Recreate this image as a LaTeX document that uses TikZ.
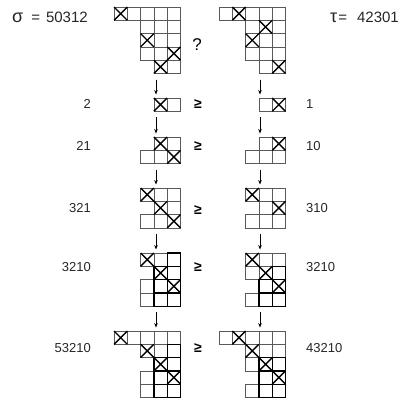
\documentclass[tikz,border=0pt]{standalone}
\usepackage{fontspec}
\setmainfont{Liberation Sans}
\usetikzlibrary{arrows.meta}

% one staircase diagram: origin, cells, crossed cells
\newcommand\stairgrid[3]{%
  \begin{scope}[shift={#1}, x=13.3pt, y=-13.3pt]
    \foreach \c/\r in {#2} \draw[cell] (\c,\r) rectangle ++(1,1);
    \foreach \c/\r in {#3} \draw[cross] (\c,\r) -- ++(1,1) (\c+1,\r) -- ++(-1,1);
  \end{scope}}
% heavier outline on some cells of a diagram
\newcommand\stairbold[2]{%
  \begin{scope}[shift={#1}, x=13.3pt, y=-13.3pt]
    \foreach \c/\r in {#2} \draw[boldcell] (\c,\r) rectangle ++(1,1);
  \end{scope}}
\newcommand\greekbig[1]{{\fontsize{18}{18}\selectfont #1}}

\begin{document}
\begin{tikzpicture}[x=1pt, y=-1pt,
    cell/.style={draw=black!65, line width=0.7pt},
    boldcell/.style={draw=black, line width=1.2pt},
    cross/.style={draw=black, line width=1.4pt},
    flow/.style={-{Stealth[length=4.5pt,width=3.5pt]}, line width=0.6pt, shorten <=6pt, shorten >=3.5pt},
    lab/.style={font=\fontsize{13}{15}\selectfont, inner sep=0pt, text=black!85},
    toplab/.style={lab, font=\fontsize{15}{17}\selectfont},
    geq/.style={font=\fontsize{14}{16}\selectfont\bfseries, inner sep=0pt}
  ]
  \useasboundingbox (0,0) rectangle (401,397);

  % top row: sigma and tau
  \node[toplab, anchor=west] (sigma) at (12,17) {\greekbig{σ}\hspace{8pt}=\hspace{6pt}50312};
  \node[toplab, anchor=east] (tau) at (399,17) {\greekbig{τ}\hspace{1pt}=\hspace{10pt}42301};
  \stairgrid{(114,7)}{0/0,1/0,2/0,3/0,4/0,2/1,3/1,4/1,2/2,3/2,4/2,2/3,3/3,4/3,3/4,4/4}{0/0,2/2,4/3,3/4}
  \stairgrid{(219,7)}{0/0,1/0,2/0,3/0,4/0,2/1,3/1,4/1,2/2,3/2,4/2,2/3,3/3,4/3,3/4,4/4}{1/0,3/1,2/2,4/4}
  \node[font=\fontsize{17}{19}\selectfont, inner sep=0pt] (query) at (197,45) {?};
  \coordinate (L1-bot) at (156,73.5);
  \coordinate (R1-bot) at (260,73.5);

  % 2 / 1
  \stairgrid{(114,98)}{3/0,4/0}{3/0}
  \stairgrid{(219,98)}{3/0,4/0}{4/0}
  \node[lab, anchor=east] (l2) at (91,104) {2};
  \node[geq] (g2) at (198,104) {≥};
  \node[lab, anchor=west] (r2) at (306,104) {1};
  \coordinate (L2-top) at (156,98);   \coordinate (L2-bot) at (156,111.3);
  \coordinate (R2-top) at (260,98);   \coordinate (R2-bot) at (260,111.3);

  % 21 / 10
  \stairgrid{(114,137)}{3/0,4/0,2/1,3/1,4/1}{3/0,4/1}
  \stairgrid{(219,137)}{3/0,4/0,2/1,3/1,4/1}{4/0}
  \node[lab, anchor=east] (l3) at (91,146) {21};
  \node[geq] (g3) at (198,146) {≥};
  \node[lab, anchor=west] (r3) at (306,146) {10};
  \coordinate (L3-top) at (156,137);  \coordinate (L3-bot) at (156,163.6);
  \coordinate (R3-top) at (260,137);  \coordinate (R3-bot) at (260,163.6);

  % 321 / 310
  \stairgrid{(114,188)}{2/0,3/0,4/0,3/1,4/1,2/2,3/2,4/2}{2/0,3/1,4/2}
  \stairgrid{(219,188)}{2/0,3/0,4/0,3/1,4/1,2/2,3/2,4/2}{2/0,4/1}
  \node[lab, anchor=east] (l4) at (91,208) {321};
  \node[geq] (g4) at (198,210) {≥};
  \node[lab, anchor=west] (r4) at (306,208) {310};
  \coordinate (L4-top) at (156,188);  \coordinate (L4-bot) at (156,227.9);
  \coordinate (R4-top) at (260,188);  \coordinate (R4-bot) at (260,227.9);

  % 3210 / 3210
  \stairgrid{(114,253)}{2/0,3/0,4/0,3/1,4/1,2/2,3/2,4/2,2/3,3/3,4/3}{2/0,3/1,4/2}
  \stairbold{(114,253)}{4/0,3/1,4/1,3/2,4/2,3/3,4/3}
  \stairgrid{(219,253)}{2/0,3/0,4/0,2/1,3/1,4/1,3/2,4/2,2/3,3/3,4/3}{2/0,3/1,4/2}
  \stairbold{(219,253)}{4/1,3/2,4/2,3/3,4/3}
  \node[lab, anchor=east] (l5) at (91,267) {3210};
  \node[geq] (g5) at (198,267) {≥};
  \node[lab, anchor=west] (r5) at (306,267) {3210};
  \coordinate (L5-top) at (156,253);  \coordinate (L5-bot) at (156,306.2);
  \coordinate (R5-top) at (260,253);  \coordinate (R5-bot) at (260,306.2);

  % 53210 / 43210
  \stairgrid{(114,331)}{0/0,1/0,2/0,3/0,4/0,2/1,3/1,4/1,3/2,4/2,2/3,3/3,4/3,2/4,3/4,4/4}{0/0,2/1,3/2,4/3}
  \stairbold{(114,331)}{4/1,3/2,4/2,3/3,4/3,3/4,4/4}
  \stairgrid{(219,331)}{0/0,1/0,2/0,3/0,4/0,2/1,3/1,4/1,2/2,3/2,4/2,3/3,4/3,2/4,3/4,4/4}{1/0,2/1,3/2,4/3}
  \stairbold{(219,331)}{3/2,4/2,3/3,4/3,3/4,4/4}
  \node[lab, anchor=east] (l6) at (91,348) {53210};
  \node[geq] (g6) at (198,348) {≥};
  \node[lab, anchor=west] (r6) at (306,348) {43210};
  \coordinate (L6-top) at (156,331);
  \coordinate (R6-top) at (260,331);

  % downward steps
  \foreach \k [evaluate=\k as \n using int(\k+1)] in {1,...,5} {
    \draw[flow] (L\k-bot) -- (L\n-top);
    \draw[flow] (R\k-bot) -- (R\n-top);
  }
\end{tikzpicture}
\end{document}
